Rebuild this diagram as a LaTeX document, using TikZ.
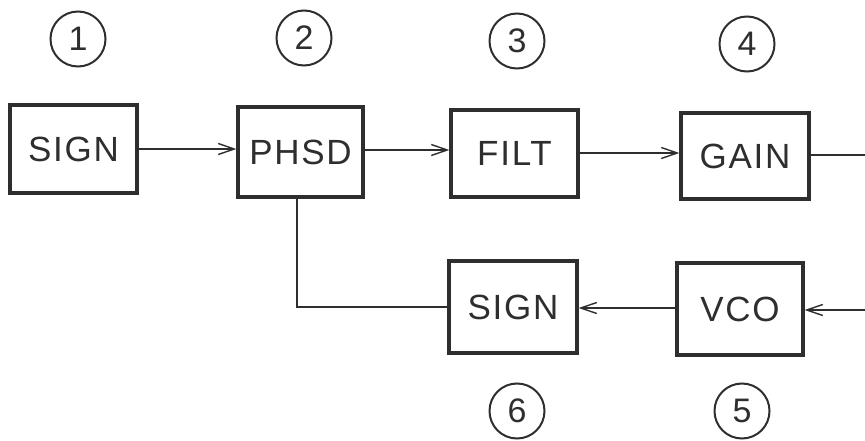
\documentclass[tikz,border=0pt]{standalone}
\usepackage{fontspec}
\setmainfont{Liberation Sans}
\usetikzlibrary{arrows.meta}
\definecolor{ink}{HTML}{2E2E2E}
\begin{document}
\begin{tikzpicture}[x=1pt,y=-1pt,
  blk/.style={draw=ink,line width=3.2pt,inner sep=0pt,text=ink,font=\fontsize{35}{35}\selectfont\addfontfeature{LetterSpace=5}},
  num/.style={draw=ink,circle,line width=2pt,inner sep=0pt,minimum size=55pt,text=ink,font=\fontsize{34}{34}\selectfont},
  conn/.style={draw=ink,line width=1.3pt},
  arr/.style={conn,-{Straight Barb[length=16pt,width=11pt,line width=1.4pt]}}]
\useasboundingbox (0,0) rectangle (865,441);
% blocks
\node[blk,minimum width=127pt,minimum height=88pt] (sign1) at (73.5,149) {SIGN};
\node[blk,minimum width=125pt,minimum height=90pt] (phsd) at (300.5,152) {PHSD};
\node[blk,minimum width=127pt,minimum height=87pt] (filt) at (514.5,153.5) {FILT};
\node[blk,minimum width=128pt,minimum height=86pt] (gain) at (745,156) {GAIN};
\node[blk,minimum width=128pt,minimum height=92pt] (sign2) at (513,307) {SIGN};
\node[blk,minimum width=126pt,minimum height=92pt] (vco) at (740,309) {VCO};
% numbers
\node[num] (n1) at (78,39) {1};
\node[num] (n2) at (304,38) {2};
\node[num] (n3) at (517,41) {3};
\node[num] (n4) at (747,44) {4};
\node[num] (n6) at (517,411) {6};
\node[num] (n5) at (742,411) {5};
% free ends
\coordinate (gout) at (865,155);
\coordinate (vin) at (865,310);
\coordinate (corner) at (297,307);
% connectors
\draw[arr] (sign1.east |- 0,149) -- (phsd.west |- 0,149);
\draw[arr] (phsd.east |- 0,150) -- (filt.west |- 0,150);
\draw[arr] (filt.east |- 0,153) -- (gain.west |- 0,153);
\draw[conn] (gain.east |- gout) -- (gout);
\draw[arr] (vin) -- (vco.east |- vin);
\draw[arr] (vco.west |- 0,308) -- (sign2.east |- 0,308);
\draw[conn] (sign2.west |- corner) -- (corner) -- (corner |- phsd.south);
\end{tikzpicture}
\end{document}
